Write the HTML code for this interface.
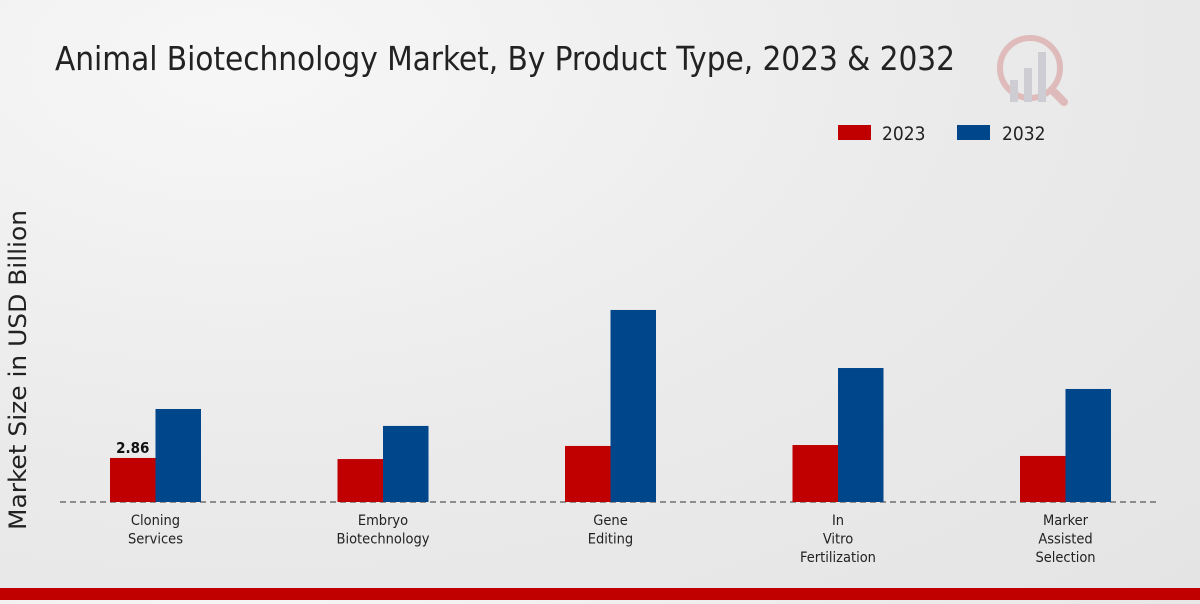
<!DOCTYPE html>
<html><head><meta charset="utf-8">
<style>
html,body{margin:0;padding:0;}
body{width:1200px;height:600px;overflow:hidden;background:radial-gradient(ellipse at 20% 10%,#f7f7f7 0%,#ebebeb 50%,#e4e4e4 100%);font-family:"DejaVu Sans Condensed","DejaVu Sans","Liberation Sans",sans-serif;font-stretch:condensed;}
svg text{font-family:"DejaVu Sans Condensed","DejaVu Sans","Liberation Sans",sans-serif;font-stretch:condensed;}
</style></head>
<body>
<svg id="chart" width="1200" height="600" xmlns="http://www.w3.org/2000/svg">
<text x="55" y="70" font-size="33" fill="#222" textLength="900">Animal Biotechnology Market, By Product Type, 2023 &amp; 2032</text>
<g opacity="0.35">
<circle cx="1030" cy="68" r="30" fill="none" stroke="#c66" stroke-width="6"/>
<rect x="1010" y="80" width="8" height="22" fill="#99a"/>
<rect x="1024" y="68" width="8" height="34" fill="#99a"/>
<rect x="1038" y="52" width="8" height="50" fill="#99a"/>
<line x1="1052" y1="90" x2="1064" y2="102" stroke="#c66" stroke-width="8" stroke-linecap="round"/>
</g>
<g>
<rect x="838" y="125" width="33" height="15" fill="#c00000"/>
<text x="882" y="140" font-size="19" fill="#222">2023</text>
<rect x="957" y="125" width="33" height="15" fill="#00468b"/>
<text x="1002" y="140" font-size="19" fill="#222">2032</text>
</g>
<text transform="translate(26,370) rotate(-90)" text-anchor="middle" font-size="24" fill="#222" textLength="320" lengthAdjust="spacingAndGlyphs">Market Size in USD Billion</text>
<line x1="60" y1="502" x2="1160" y2="502" stroke="#333" stroke-width="1" stroke-dasharray="6,4"/>
<g id="bars"></g>
<g id="labels"></g>
<rect x="0" y="588" width="1200" height="12" fill="#c00000"/>
</svg>
<script>
const categories = [["Cloning","Services"],["Embryo","Biotechnology"],["Gene","Editing"],["In","Vitro","Fertilization"],["Marker","Assisted","Selection"]];
const values2023 = [2.86, 2.79, 3.64, 3.70, 2.99];
const values2032 = [6.04, 4.94, 12.47, 8.70, 7.34];
const printedValues = ["2.86", null, null, null, null];

const NS = "http://www.w3.org/2000/svg";
const baseY = 502, pxPerUnit = 15.4, x0 = 155.5, step = 227.5, bw = 45.5;
const yScale = v => baseY - v * pxPerUnit;
const xCenter = i => x0 + i * step;
const bars = document.getElementById('bars');
const labels = document.getElementById('labels');
categories.forEach((cat, i) => {
  const cx = xCenter(i);
  [[values2023[i], cx - bw, "#c00000", "2023"], [values2032[i], cx, "#00468b", "2032"]].forEach(([v, x, c, s]) => {
    const r = document.createElementNS(NS, 'rect');
    r.setAttribute('x', x); r.setAttribute('y', yScale(v));
    r.setAttribute('width', bw); r.setAttribute('height', baseY - yScale(v));
    r.setAttribute('fill', c);
    
    
    bars.appendChild(r);
  });
  if (printedValues[i]) {
    const t = document.createElementNS(NS, 'text');
    t.setAttribute('x', cx - bw / 2); t.setAttribute('y', yScale(values2023[i]) - 5);
    t.setAttribute('text-anchor', 'middle'); t.setAttribute('font-size', '15');
    t.setAttribute('font-weight', 'bold'); t.setAttribute('fill', '#111');
    t.textContent = printedValues[i];
    
    
    labels.appendChild(t);
  }
  const t = document.createElementNS(NS, 'text');
  t.setAttribute('text-anchor', 'middle'); t.setAttribute('font-size', '14.5'); t.setAttribute('fill', '#222');
  
  
  cat.forEach((line, j) => {
    const ts = document.createElementNS(NS, 'tspan');
    ts.setAttribute('x', cx); ts.setAttribute('y', 525 + j * 18.5);
    ts.textContent = line;
    t.appendChild(ts);
  });
  labels.appendChild(t);
});
</script>
</body></html>
